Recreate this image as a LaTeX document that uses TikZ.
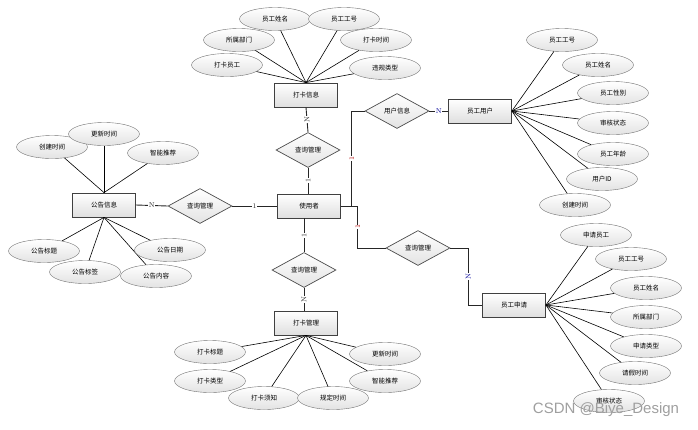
\documentclass[tikz,border=0pt]{standalone}
\usepackage{fontspec}
\newfontfamily\cjk{Noto Sans CJK SC}
\newfontfamily\wmfont{Liberation Sans}
\usetikzlibrary{shapes}

\tikzset{
  attr/.style={ellipse, draw=black!55, top color=white, bottom color=gray!22,
    minimum width=71pt, minimum height=23pt, inner sep=0pt,
    font=\cjk\fontsize{6.5}{7}\selectfont},
  ent/.style={rectangle, draw=black!75, line width=0.8pt, top color=white, bottom color=gray!25,
    minimum width=63pt, minimum height=24pt, inner sep=0pt,
    font=\cjk\fontsize{6.5}{7}\selectfont},
  rel/.style={diamond, draw=black!70, line width=0.7pt, top color=white, bottom color=gray!22,
    minimum width=64pt, minimum height=35pt, inner sep=0pt,
    font=\cjk\fontsize{6.5}{7}\selectfont},
  card/.style={fill=white, inner sep=0.5pt, font=\fontsize{7}{7}\selectfont},
  conn/.style={line width=0.9pt, black!85},
  spoke/.style={line width=0.6pt}
}

\begin{document}
\begin{tikzpicture}[x=1pt,y=-1pt]
\useasboundingbox (0,0) rectangle (698,429);

% entities
\node[ent] (daka) at (306,95) {打卡信息};
\node[ent] (shiyong) at (309,206) {使用者};
\node[ent] (gonggao) at (104,205) {公告信息};
\node[ent] (dkgl) at (306,323) {打卡管理};
\node[ent] (yonghu) at (480,111) {员工用户};
\node[ent] (shenqing) at (514,305) {员工申请};

% relations
\node[rel] (rtop) at (308,150) {查询管理};
\node[rel] (rleft) at (200,206) {查询管理};
\node[rel] (rbot) at (304,270) {查询管理};
\node[rel] (ryh) at (397,111) {用户信息};
\node[rel] (rsq) at (418,248) {查询管理};

% attributes of the punch-in info
\foreach \t/\x/\y [count=\i] in {员工姓名/275/19, 员工工号/344/19, 所属部门/239/40,
    打卡时间/376/40, 打卡员工/227/65, 违规类型/385/68}
{
  \node[attr] (dk\i) at (\x,\y) {\t};
  \draw[spoke] (daka.north) -- (dk\i);
}

% attributes of the notice
\foreach \t/\x/\y [count=\i] in {创建时间/52/147, 更新时间/104/134, 智能推荐/163/153}
{
  \node[attr] (gga\i) at (\x,\y) {\t};
  \draw[spoke] (gonggao.north) -- (gga\i);
}
\foreach \t/\x/\y [count=\i] in {公告标题/44/251, 公告标签/85/272, 公告内容/156/276, 公告日期/170/250}
{
  \node[attr] (ggb\i) at (\x,\y) {\t};
  \draw[spoke] (gonggao.south) -- (ggb\i);
}

% attributes of the punch-in management
\foreach \t/\x/\y [count=\i] in {打卡标题/210/352, 打卡类型/210/381, 打卡须知/264/398,
    规定时间/333/398, 更新时间/385/354, 智能推荐/385/381}
{
  \node[attr] (gl\i) at (\x,\y) {\t};
  \draw[spoke] (dkgl.south) -- (gl\i);
}

% attributes of the employee user
\foreach \t/\x/\y [count=\i] in {员工工号/562/40, 员工姓名/598/65, 员工性别/613/93,
    审核状态/613/123, 员工年龄/613/154, 用户ID/602/179, 创建时间/575/205}
{
  \node[attr] (yh\i) at (\x,\y) {\t};
  \draw[spoke] (yonghu.east) -- (yh\i);
}

% attributes of the application
\foreach \t/\x/\y [count=\i] in {申请员工/596/235, 员工工号/631/259, 员工姓名/646/288,
    所属部门/646/317, 申请类型/646/346, 请假时间/635/373, 审核状态/609/401}
{
  \node[attr] (sq\i) at (\x,\y) {\t};
  \draw[spoke] (shenqing.east) -- (sq\i);
}

% links between entities and relations
\draw[conn] (daka.south) -- node[card,rotate=90] {N} (rtop.north);
\draw[conn] (rtop.south) -- node[card,rotate=90] {1} (rtop.south |- shiyong.north);
\draw[conn] (gonggao.east) -- node[card] {N} (rleft.west);
\draw[conn] (rleft.east) -- node[card] {1} (shiyong.west);
\draw[conn] (rbot.north |- shiyong.south) -- node[card,rotate=90] {1} (rbot.north);
\draw[conn] (rbot.south) -- node[card,rotate=90] {N} (rbot.south |- dkgl.north);
\draw[conn] (shiyong.east) -- ++(11,0) |- node[card,pos=0.25,rotate=90,text=red!70!black] {1} (ryh.west);
\draw[conn] (ryh.east) -- node[card,text=blue!60!black] {N} (yonghu.west);
\draw[conn] (shiyong.east) -- ++(17,0) |- node[card,pos=0.25,rotate=90,text=red!70!black] {1} (rsq.west);
\draw[conn] (rsq.east) -- ++(18,0) |- node[card,pos=0.25,rotate=90,text=blue!60!black] {N} (shenqing.west);

% watermark
\node[text=gray!75, font=\wmfont\fontsize{15}{15}\selectfont] (wm) at (606,410) {CSDN @Biye\_Design};
\end{tikzpicture}
\end{document}
